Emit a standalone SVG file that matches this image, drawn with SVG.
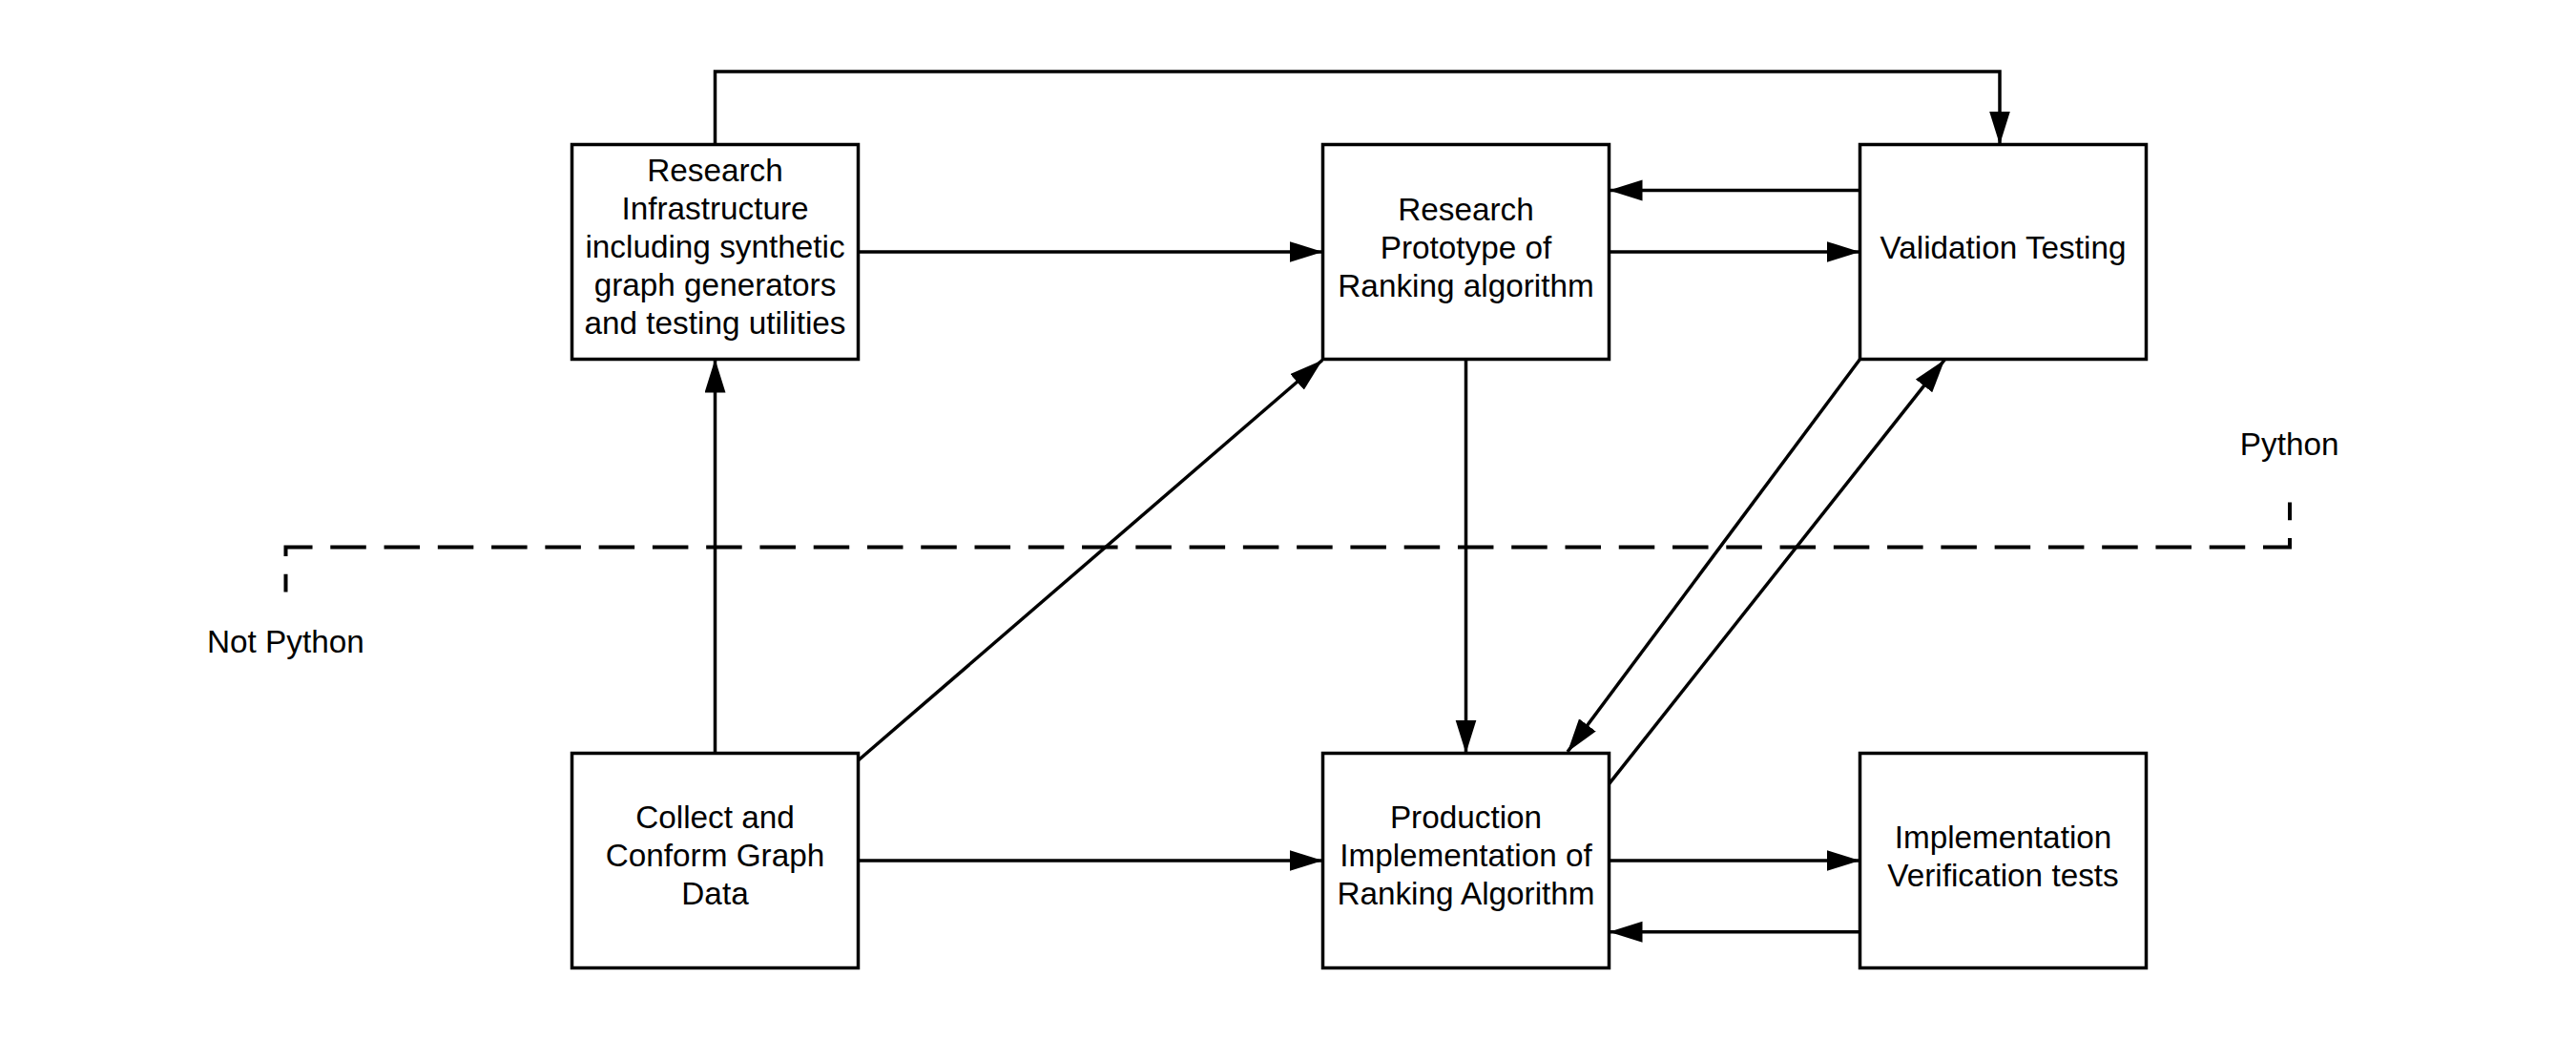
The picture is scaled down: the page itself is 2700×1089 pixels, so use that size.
<svg xmlns="http://www.w3.org/2000/svg" width="2700" height="1089" viewBox="0 0 2700 1089">
  <style>
    .box { fill: #ffffff; stroke: #000000; stroke-width: 3.5; }
    .lbl { font-family: "Liberation Sans", Arial, sans-serif; font-size: 33.3px; fill: #000000; text-anchor: middle; }
    .edge { fill: none; stroke: #000000; stroke-width: 3.5; }
    .dash { fill: none; stroke: #000000; stroke-width: 4; stroke-dasharray: 37.51 18.76; stroke-dashoffset: 18.76; }
  </style>
  <defs>
    <marker id="arrow" markerUnits="userSpaceOnUse" markerWidth="36" markerHeight="24" refX="35" refY="11" orient="auto">
      <path d="M0,0 L35,11 L0,22 Z" fill="#000000"/>
    </marker>
  </defs>
  <rect width="2700" height="1089" fill="#ffffff"/>

  <g id="connectors">
    <path class="edge" d="M749.5,151.5 V75 H2096 V151.5" marker-end="url(#arrow)"/>
    <path class="edge" d="M899.5,264 H1386.5" marker-end="url(#arrow)"/>
    <path class="edge" d="M1949.5,199.5 H1686.5" marker-end="url(#arrow)"/>
    <path class="edge" d="M1686.5,264 H1949.5" marker-end="url(#arrow)"/>
    <path class="edge" d="M749.5,789.5 V376.5" marker-end="url(#arrow)"/>
    <path class="edge" d="M899.5,797 L1386,377.5" marker-end="url(#arrow)"/>
    <path class="edge" d="M1536.5,376.5 V789.5" marker-end="url(#arrow)"/>
    <path class="edge" d="M1949.5,376.5 L1643,788" marker-end="url(#arrow)"/>
    <path class="edge" d="M1686.5,821.7 L2038.3,377" marker-end="url(#arrow)"/>
    <path class="edge" d="M899.5,902 H1386.5" marker-end="url(#arrow)"/>
    <path class="edge" d="M1686.5,902 H1949.5" marker-end="url(#arrow)"/>
    <path class="edge" d="M1949.5,976.7 H1686.5" marker-end="url(#arrow)"/>
  </g>

  <g id="boundary">
    <path class="dash" d="M299.5,620.5 V573.5 H2400 V526.5"/>
    <text class="lbl" x="2399.7" y="477">Python</text>
    <text class="lbl" x="299.4" y="684">Not Python</text>
  </g>

  <g id="research-infrastructure">
    <rect class="box" x="599.5" y="151.5" width="300" height="225"/>
    <text class="lbl" x="749.5" y="190">Research</text>
    <text class="lbl" x="749.5" y="230">Infrastructure</text>
    <text class="lbl" x="749.5" y="270">including synthetic</text>
    <text class="lbl" x="749.5" y="310">graph generators</text>
    <text class="lbl" x="749.5" y="350">and testing utilities</text>
  </g>

  <g id="research-prototype">
    <rect class="box" x="1386.5" y="151.5" width="300" height="225"/>
    <text class="lbl" x="1536.5" y="231">Research</text>
    <text class="lbl" x="1536.5" y="271">Prototype of</text>
    <text class="lbl" x="1536.5" y="311">Ranking algorithm</text>
  </g>

  <g id="validation-testing">
    <rect class="box" x="1949.5" y="151.5" width="300" height="225"/>
    <text class="lbl" x="2099.5" y="271">Validation Testing</text>
  </g>

  <g id="collect-data">
    <rect class="box" x="599.5" y="789.5" width="300" height="225"/>
    <text class="lbl" x="749.5" y="868">Collect and</text>
    <text class="lbl" x="749.5" y="908">Conform Graph</text>
    <text class="lbl" x="749.5" y="948">Data</text>
  </g>

  <g id="production-implementation">
    <rect class="box" x="1386.5" y="789.5" width="300" height="225"/>
    <text class="lbl" x="1536.5" y="868">Production</text>
    <text class="lbl" x="1536.5" y="908">Implementation of</text>
    <text class="lbl" x="1536.5" y="948">Ranking Algorithm</text>
  </g>

  <g id="implementation-verification">
    <rect class="box" x="1949.5" y="789.5" width="300" height="225"/>
    <text class="lbl" x="2099.5" y="888.5">Implementation</text>
    <text class="lbl" x="2099.5" y="928.5">Verification tests</text>
  </g>
</svg>
